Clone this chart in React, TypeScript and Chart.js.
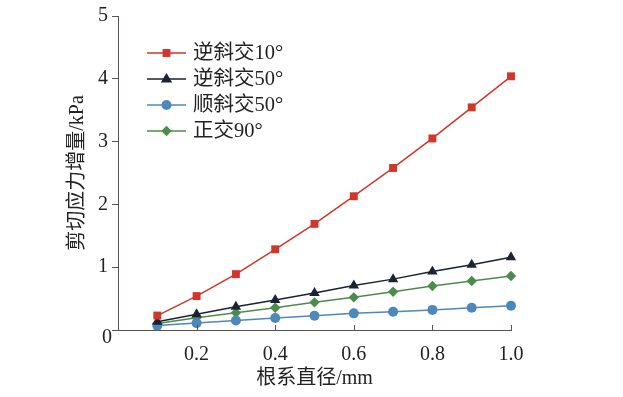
import React, { useEffect, useRef } from 'react';
import { Chart, registerables } from 'chart.js';

Chart.register(...registerables);

const diameters = [0.1, 0.2, 0.3, 0.4, 0.5, 0.6, 0.7, 0.8, 0.9, 1.0];
const labels = ['逆斜交10°', '逆斜交50°', '顺斜交50°', '正交90°'];
const reverse10 = [0.23, 0.54, 0.89, 1.285, 1.69, 2.13, 2.58, 3.05, 3.545, 4.04];
const reverse50 = [0.13, 0.25, 0.37, 0.476, 0.59, 0.71, 0.81, 0.93, 1.04, 1.16];
const forward50 = [0.07, 0.11, 0.15, 0.19, 0.227, 0.265, 0.29, 0.32, 0.355, 0.385];
const ortho90 = [0.105, 0.195, 0.275, 0.355, 0.44, 0.52, 0.61, 0.7, 0.78, 0.86];
const xTicks = [0.2, 0.4, 0.6, 0.8, 1.0];

const colors = ['#d0372a', '#1b2232', '#4d88ba', '#4c8c4a'];
const styles = ['rect', 'triangle', 'circle', 'rectRot'];
const radii = [5.6, 6, 5, 5.2];
const allSeries = [reverse10, reverse50, forward50, ortho90];

const AXIS = '#5b5250';
const NUM_FONT = '"Liberation Serif", "Noto Sans CJK SC", serif';

function drawMarker(ctx: CanvasRenderingContext2D, style: string, x: number, y: number, r: number, color: string) {
  ctx.save();
  ctx.fillStyle = color;
  ctx.beginPath();
  if (style === 'rect') {
    const s = r * Math.SQRT1_2;
    ctx.rect(x - s, y - s, 2 * s, 2 * s);
  } else if (style === 'triangle') {
    ctx.moveTo(x, y - r);
    ctx.lineTo(x + r * 0.95, y + r * 0.6);
    ctx.lineTo(x - r * 0.95, y + r * 0.6);
    ctx.closePath();
  } else if (style === 'circle') {
    ctx.arc(x, y, r, 0, Math.PI * 2);
  } else {
    ctx.moveTo(x, y - r);
    ctx.lineTo(x + r, y);
    ctx.lineTo(x, y + r);
    ctx.lineTo(x - r, y);
    ctx.closePath();
  }
  ctx.fill();
  ctx.restore();
}

const extras = {
  id: 'extras',
  afterDraw(chart: any) {
    const ctx: CanvasRenderingContext2D = chart.ctx;
    const xs = chart.scales.x;
    const ys = chart.scales.y;
    const bottom = ys.getPixelForValue(0);
    ctx.save();
    ctx.strokeStyle = AXIS;
    ctx.lineWidth = 1;
    xTicks.forEach((v) => {
      const px = Math.round(xs.getPixelForValue(v)) + 0.5;
      ctx.beginPath();
      ctx.moveTo(px, bottom);
      ctx.lineTo(px, bottom - 5);
      ctx.stroke();
    });
    ctx.fillStyle = '#222';
    ctx.font = '20px ' + NUM_FONT;
    ctx.textAlign = 'right';
    ctx.textBaseline = 'middle';
    ctx.fillText('0', 112, bottom + 8);

    // legend
    const lx0 = 147, lx1 = 186, tx = 193;
    const y0 = 53, dy = 26;
    ctx.font = '20.5px ' + NUM_FONT;
    ctx.textAlign = 'left';
    labels.forEach((lab, i) => {
      const y = y0 + i * dy;
      ctx.strokeStyle = colors[i];
      ctx.lineWidth = 1.5;
      ctx.beginPath();
      ctx.moveTo(lx0, y);
      ctx.lineTo(lx1, y);
      ctx.stroke();
      drawMarker(ctx, styles[i], (lx0 + lx1) / 2, y, radii[i], colors[i]);
      ctx.fillStyle = '#222';
      ctx.fillText(lab, tx, y + 1);
    });
    ctx.restore();
  },
};

export default function App() {
  const ref = useRef<HTMLCanvasElement>(null);
  useEffect(() => {
    if (!ref.current) return;
    const chart = new Chart(ref.current, {
      type: 'line',
      data: {
        datasets: allSeries.map((s, i) => ({
          label: labels[i],
          data: s.map((v, j) => ({ x: diameters[j], y: v })),
          borderColor: colors[i],
          backgroundColor: colors[i],
          borderWidth: 1.5,
          pointStyle: styles[i] as any,
          pointRadius: radii[i],
          pointBorderWidth: 0,
          pointBackgroundColor: colors[i],
          tension: 0,
          clip: false as any,
        })),
      },
      options: {
        animation: false,
        responsive: false,
        layout: { padding: { left: 0, top: 15, right: 112, bottom: 0 } },
        plugins: { legend: { display: false }, tooltip: { enabled: false } },
        scales: {
          x: {
            type: 'linear',
            min: 0,
            max: 1,
            afterFit: (s: any) => { s.height = 67; },
            afterBuildTicks: (s: any) => { s.ticks = xTicks.map((v) => ({ value: v })); },
            grid: { display: false },
            border: { display: true, color: AXIS, width: 1 },
            ticks: {
              padding: 5,
              color: '#222',
              font: { family: NUM_FONT, size: 20 },
              maxRotation: 0,
              callback: (v: any) => Number(v).toFixed(1),
            },
            title: {
              display: true,
              text: '根系直径/mm',
              color: '#222',
              font: { family: NUM_FONT, size: 20 },
              padding: { top: 0, bottom: 6 },
            },
          },
          y: {
            min: 0,
            max: 5,
            afterFit: (s: any) => { s.width = 118; },
            grid: { drawOnChartArea: false, color: AXIS, tickLength: 6 },
            border: { display: true, color: AXIS, width: 1 },
            ticks: {
              stepSize: 1,
              padding: 4,
              color: '#222',
              font: { family: NUM_FONT, size: 20 },
              callback: (v: any) => (Number(v) === 0 ? '' : String(v)),
            },
            title: {
              display: true,
              text: '剪切应力增量/kPa',
              color: '#222',
              font: { family: NUM_FONT, size: 20 },
              padding: { top: 66, bottom: 0 },
            },
          },
        },
      },
      plugins: [extras],
    });
    return () => chart.destroy();
  }, []);
  return (
    <div style={{ position: 'fixed', left: 0, top: 0, width: 623, height: 397, background: '#fff' }}>
      <canvas ref={ref} width={623} height={397} style={{ width: 623, height: 397 }} />
    </div>
  );
}
